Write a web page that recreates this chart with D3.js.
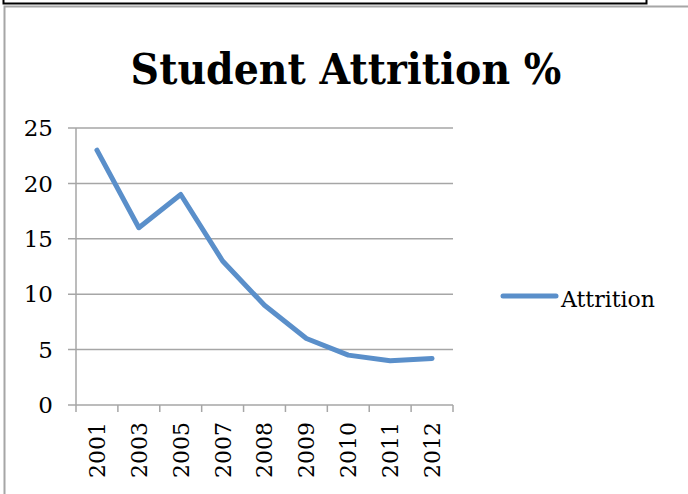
<!DOCTYPE html>
<html>
<head>
<meta charset="utf-8">
<script src="https://cdn.jsdelivr.net/npm/d3@7"></script>
<style>
  body { margin: 0; background: #fff; }
  svg { display: block; }
</style>
</head>
<body>
<script>
var years = ["2001","2003","2005","2007","2008","2009","2010","2011","2012"];
var attrition = [23, 16, 19, 13, 9, 6, 4.5, 4, 4.2];
var yTicks = [0, 5, 10, 15, 20, 25];
var seriesName = "Attrition";
var chartTitle = "Student Attrition %";

var width = 688, height = 494;
var serif = "'DejaVu Serif', serif";
var blue = "#5a8fca";
var grid = "#a6a6a6";

var svg = d3.select("body").append("svg")
            .attr("width", width)
            .attr("height", height);

svg.append("rect").attr("width", width).attr("height", height).attr("fill", "#fff");

// chart frame (grey) and the black box above it
svg.append("path")
   .attr("d", "M4.5," + height + " V6.5 H" + width)
   .attr("fill", "none")
   .attr("stroke", grid)
   .attr("stroke-width", 2);
svg.append("rect")
   .attr("x", 3.5).attr("y", -4)
   .attr("width", 643).attr("height", 7.5)
   .attr("fill", "none")
   .attr("stroke", "#000")
   .attr("stroke-width", 2);

var plot = {left: 76, right: 453, top: 128, bottom: 405};

var x = d3.scaleBand().domain(years).range([plot.left, plot.right]);
var y = d3.scaleLinear().domain([0, 25]).range([plot.bottom, plot.top]);

// horizontal gridlines
svg.append("g").selectAll("line")
   .data(yTicks)
   .join("line")
   .attr("x1", plot.left - 8)
   .attr("x2", plot.right)
   .attr("y1", d => y(d))
   .attr("y2", d => y(d))
   .attr("stroke", grid)
   .attr("stroke-width", 1.5);

// y axis line
svg.append("line")
   .attr("x1", plot.left).attr("x2", plot.left)
   .attr("y1", plot.top).attr("y2", plot.bottom)
   .attr("stroke", grid).attr("stroke-width", 1.5);

// x tick marks at band edges
var edges = years.map(d => x(d)).concat([plot.right]);
svg.append("g").selectAll("line")
   .data(edges)
   .join("line")
   .attr("x1", d => d).attr("x2", d => d)
   .attr("y1", plot.bottom).attr("y2", plot.bottom + 7)
   .attr("stroke", grid).attr("stroke-width", 1.5);

// y tick labels
svg.append("g").selectAll("text")
   .data(yTicks)
   .join("text")
   .attr("x", 53)
   .attr("y", d => y(d))
   .attr("dy", "0.36em")
   .attr("text-anchor", "end")
   .attr("font-family", serif)
   .attr("font-size", 23)
   .attr("fill", "#000")
   .text(d => d);

// x tick labels, rotated
svg.append("g").selectAll("text")
   .data(years)
   .join("text")
   .attr("transform", d => "translate(" + (x(d) + x.bandwidth() / 2) + ",422) rotate(-90)")
   .attr("dy", "0.36em")
   .attr("text-anchor", "end")
   .attr("font-family", serif)
   .attr("font-size", 22)
   .attr("fill", "#000")
   .text(d => d);

// series line
var line = d3.line()
             .x((d, i) => x(years[i]) + x.bandwidth() / 2)
             .y(d => y(d));
svg.append("path")
   .datum(attrition)
   .attr("d", line)
   .attr("fill", "none")
   .attr("stroke", blue)
   .attr("stroke-width", 5)
   .attr("stroke-linecap", "round")
   .attr("stroke-linejoin", "round");

// title, stretched a little vertically to match the taller original face
svg.append("text")
   .attr("transform", "translate(346,84) scale(1,1.1)")
   .attr("text-anchor", "middle")
   .attr("font-family", serif)
   .attr("font-weight", "bold")
   .attr("font-size", 39.5)
   .attr("fill", "#000")
   .text(chartTitle);

// legend
svg.append("line")
   .attr("x1", 503).attr("x2", 556)
   .attr("y1", 296).attr("y2", 296)
   .attr("stroke", blue)
   .attr("stroke-width", 5)
   .attr("stroke-linecap", "round");
svg.append("text")
   .attr("x", 561)
   .attr("y", 307)
   .attr("font-family", serif)
   .attr("font-size", 22)
   .attr("fill", "#000")
   .text(seriesName);
</script>
</body>
</html>
